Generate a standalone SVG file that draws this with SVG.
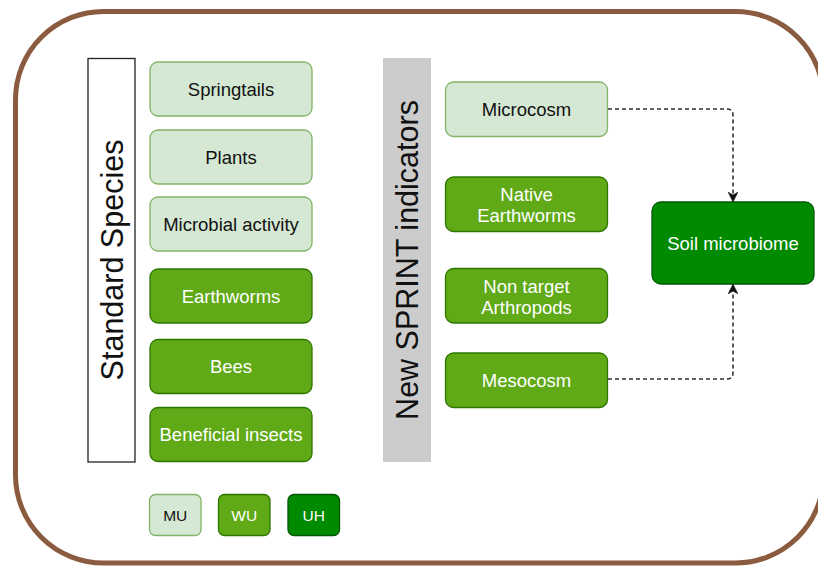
<svg xmlns="http://www.w3.org/2000/svg" width="818" height="566" viewBox="0 0 818 566">
  <defs>
    <style>
      .frame { fill: #ffffff; stroke: #8b5b40; stroke-width: 5; }
      .mu { fill: #d5e8d4; stroke: #82b366; stroke-width: 1.3; }
      .wu { fill: #60a917; stroke: #2d7600; stroke-width: 1.3; }
      .uh { fill: #008a00; stroke: #005700; stroke-width: 1.3; }
      .lbl { font-family: "Liberation Sans", Arial, Helvetica, sans-serif; font-size: 18.5px; text-anchor: middle; dominant-baseline: central; }
      .dark { fill: #111111; }
      .light { fill: #ffffff; }
      .big { font-family: "Liberation Sans", Arial, Helvetica, sans-serif; font-size: 30.5px; text-anchor: middle; dominant-baseline: central; fill: #111111; }
      .small { font-size: 15.5px; }
      .conn { fill: none; stroke: #333333; stroke-width: 1.6; stroke-dasharray: 4 3; }
    </style>
    <marker id="arrow" viewBox="0 0 10 10" refX="9" refY="5" markerWidth="10" markerHeight="10" markerUnits="userSpaceOnUse" orient="auto">
      <path d="M0,0 L10,5 L0,10 L3,5 Z" fill="#111111" stroke="#111111" stroke-width="0.5"/>
    </marker>
  </defs>

  <!-- outer frame -->
  <rect class="frame" x="15.5" y="11.5" width="808" height="551.5" rx="88" ry="88"/>

  <!-- column headers -->
  <g id="standard-species">
    <rect x="88" y="58.5" width="47" height="403.5" fill="#ffffff" stroke="#222222" stroke-width="1.3"/>
    <text class="big" transform="translate(111.5,260) rotate(-90)">Standard Species</text>
  </g>
  <g id="sprint-indicators">
    <rect x="383" y="58" width="48" height="404" fill="#cccccc"/>
    <text class="big" transform="translate(407,260) rotate(-90)">New SPRINT indicators</text>
  </g>

  <!-- standard species -->
  <g id="springtails">
    <rect class="mu" x="150" y="62" width="162" height="54" rx="8"/>
    <text class="lbl dark" x="231" y="89">Springtails</text>
  </g>
  <g id="plants">
    <rect class="mu" x="150" y="130" width="162" height="54" rx="8"/>
    <text class="lbl dark" x="231" y="157">Plants</text>
  </g>
  <g id="microbial-activity">
    <rect class="mu" x="150" y="197" width="162" height="54" rx="8"/>
    <text class="lbl dark" x="231" y="224">Microbial activity</text>
  </g>
  <g id="earthworms">
    <rect class="wu" x="150" y="269" width="162" height="54" rx="8"/>
    <text class="lbl light" x="231" y="296">Earthworms</text>
  </g>
  <g id="bees">
    <rect class="wu" x="150" y="339.5" width="162" height="54" rx="8"/>
    <text class="lbl light" x="231" y="366.5">Bees</text>
  </g>
  <g id="beneficial-insects">
    <rect class="wu" x="150" y="407.5" width="162" height="54" rx="8"/>
    <text class="lbl light" x="231" y="434.5">Beneficial insects</text>
  </g>

  <!-- SPRINT indicators -->
  <g id="microcosm">
    <rect class="mu" x="445.5" y="82" width="162" height="54.5" rx="8"/>
    <text class="lbl dark" x="526.5" y="109.5">Microcosm</text>
  </g>
  <g id="native-earthworms">
    <rect class="wu" x="445.5" y="177" width="162" height="54.5" rx="8"/>
    <text class="lbl light" x="526.5" y="194">Native</text>
    <text class="lbl light" x="526.5" y="215.5">Earthworms</text>
  </g>
  <g id="non-target-arthropods">
    <rect class="wu" x="445.5" y="268.5" width="162" height="54.5" rx="8"/>
    <text class="lbl light" x="526.5" y="286">Non target</text>
    <text class="lbl light" x="526.5" y="307.5">Arthropods</text>
  </g>
  <g id="mesocosm">
    <rect class="wu" x="445.5" y="353" width="162" height="54.5" rx="8"/>
    <text class="lbl light" x="526.5" y="380.5">Mesocosm</text>
  </g>

  <g id="soil-microbiome">
    <rect class="uh" x="652" y="202" width="162" height="82" rx="9"/>
    <text class="lbl light" x="733" y="243">Soil microbiome</text>
  </g>

  <!-- legend -->
  <g id="legend-mu">
    <rect class="mu" x="149.5" y="494.5" width="51.5" height="41" rx="6"/>
    <text class="lbl dark small" x="175.2" y="515.5">MU</text>
  </g>
  <g id="legend-wu">
    <rect class="wu" x="218.5" y="494.5" width="51.5" height="41" rx="6"/>
    <text class="lbl light small" x="244.2" y="515.5">WU</text>
  </g>
  <g id="legend-uh">
    <rect class="uh" x="288" y="494.5" width="51.5" height="41" rx="6"/>
    <text class="lbl light small" x="313.7" y="515.5">UH</text>
  </g>

  <!-- connectors -->
  <g id="connectors">
    <path class="conn" d="M608,109 L727,109 Q733,109 733,115 L733,201" marker-end="url(#arrow)"/>
    <path class="conn" d="M608,379 L727,379 Q733,379 733,373 L733,285" marker-end="url(#arrow)"/>
  </g>
</svg>
